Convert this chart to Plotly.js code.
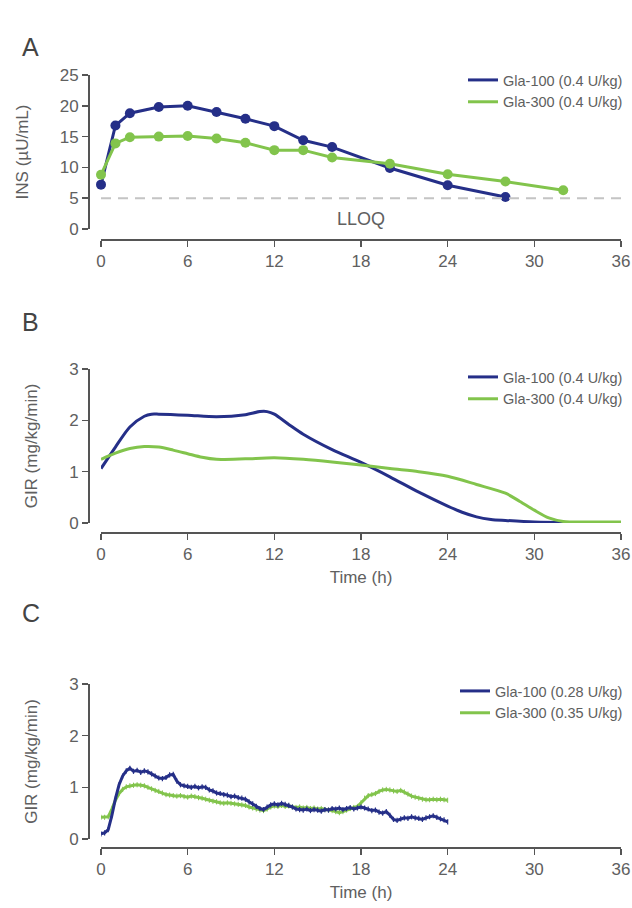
<!DOCTYPE html>
<html>
<head>
<meta charset="utf-8">
<script src="https://cdn.plot.ly/plotly-3.0.1.min.js"></script>
<style>html,body{margin:0;padding:0;background:#fff;}#chart{width:632px;height:908px;}</style>
</head>
<body>
<div id="chart"></div>
<script>
// ---------- Panel A: insulin concentration ----------
const timeA100 = [0, 1, 2, 4, 6, 8, 10, 12, 14, 16, 20, 24, 28];
const insA100  = [7.2, 16.8, 18.8, 19.8, 20.0, 19.0, 17.9, 16.7, 14.4, 13.3, 9.9, 7.1, 5.2];
const timeA300 = [0, 1, 2, 4, 6, 8, 10, 12, 14, 16, 20, 24, 28, 32];
const insA300  = [8.8, 13.9, 14.9, 15.0, 15.1, 14.7, 14.0, 12.8, 12.8, 11.6, 10.6, 8.9, 7.7, 6.3];
const LLOQ = 5;
const lloqSpan = [0, 36];

// ---------- Panel B: GIR, smoothed ----------
const timeB100 = [0, 1, 2, 3, 3.5, 4, 6, 8, 10, 11, 11.5, 12, 13, 14, 16, 18, 20, 22, 24, 25, 26, 27, 28, 30, 33, 36];
const girB100  = [1.06, 1.48, 1.87, 2.08, 2.12, 2.12, 2.10, 2.07, 2.11, 2.17, 2.17, 2.12, 1.92, 1.73, 1.43, 1.18, 0.90, 0.60, 0.33, 0.21, 0.12, 0.07, 0.05, 0.02, 0.01, 0.01];
const timeB300 = [0, 1, 2, 3, 4, 5, 6, 7, 8, 10, 12, 14, 16, 18, 20, 22, 24, 26, 28, 29, 30, 31, 32, 34, 36];
const girB300  = [1.24, 1.36, 1.45, 1.49, 1.48, 1.42, 1.35, 1.28, 1.24, 1.25, 1.27, 1.24, 1.19, 1.13, 1.06, 1.00, 0.91, 0.75, 0.58, 0.42, 0.25, 0.10, 0.03, 0.02, 0.02];

// ---------- Panel C: GIR, raw (every 0.25 h) ----------
const timeC = [0,0.25,0.5,0.75,1,1.25,1.5,1.75,2,2.25,2.5,2.75,3,3.25,3.5,3.75,4,4.25,4.5,4.75,5,5.25,5.5,5.75,6,6.25,6.5,6.75,7,7.25,7.5,7.75,8,8.25,8.5,8.75,9,9.25,9.5,9.75,10,10.25,10.5,10.75,11,11.25,11.5,11.75,12,12.25,12.5,12.75,13,13.25,13.5,13.75,14,14.25,14.5,14.75,15,15.25,15.5,15.75,16,16.25,16.5,16.75,17,17.25,17.5,17.75,18,18.25,18.5,18.75,19,19.25,19.5,19.75,20,20.25,20.5,20.75,21,21.25,21.5,21.75,22,22.25,22.5,22.75,23,23.25,23.5,23.75,24];
const girC100 = [0.10,0.12,0.18,0.45,0.78,1.05,1.22,1.32,1.37,1.31,1.33,1.29,1.32,1.30,1.26,1.22,1.18,1.17,1.19,1.24,1.25,1.12,1.05,1.03,1.02,1.00,1.02,0.99,1.01,1.00,0.95,0.93,0.89,0.88,0.86,0.85,0.82,0.83,0.80,0.79,0.77,0.72,0.68,0.63,0.59,0.57,0.62,0.66,0.68,0.66,0.69,0.67,0.65,0.62,0.58,0.57,0.56,0.58,0.55,0.57,0.56,0.54,0.57,0.56,0.59,0.58,0.60,0.57,0.59,0.61,0.58,0.60,0.62,0.60,0.58,0.55,0.56,0.52,0.50,0.53,0.46,0.38,0.36,0.39,0.41,0.40,0.43,0.41,0.40,0.38,0.41,0.43,0.45,0.42,0.39,0.37,0.33];
const girC300 = [0.42,0.42,0.43,0.58,0.75,0.88,0.96,1.01,1.03,1.04,1.05,1.04,1.03,1.00,0.97,0.94,0.92,0.89,0.86,0.85,0.84,0.83,0.84,0.82,0.81,0.83,0.82,0.80,0.79,0.77,0.75,0.73,0.72,0.70,0.69,0.70,0.69,0.68,0.67,0.66,0.65,0.62,0.60,0.58,0.56,0.55,0.58,0.62,0.64,0.63,0.65,0.63,0.64,0.62,0.61,0.62,0.60,0.61,0.59,0.60,0.58,0.59,0.57,0.56,0.55,0.53,0.51,0.53,0.56,0.59,0.61,0.63,0.70,0.79,0.84,0.86,0.88,0.92,0.95,0.96,0.95,0.93,0.92,0.94,0.91,0.87,0.83,0.81,0.79,0.77,0.76,0.76,0.77,0.76,0.77,0.76,0.75];
const semC = 0.05;

// ---------- labels ----------
const xTicks = [0, 6, 12, 18, 24, 30, 36];
const yTicksA = [0, 5, 10, 15, 20, 25];
const yTicksGIR = [0, 1, 2, 3];
const namesAB = ['Gla-100 (0.4 U/kg)', 'Gla-300 (0.4 U/kg)'];
const namesC = ['Gla-100 (0.28 U/kg)', 'Gla-300 (0.35 U/kg)'];

const BLUE = '#252f88';
const GREEN = '#82c44c';
const AX = '#555555';
const TXT = '#606060';
const FONT = 'Liberation Sans, Arial, Helvetica, sans-serif';

const W = 632, H = 908;
const px = v => v / W;
const py = v => 1 - v / H;

const traces = [
  {x: timeA100, y: insA100, name: namesAB[0], mode: 'lines+markers', xaxis: 'x', yaxis: 'y', showlegend: false,
   line: {color: BLUE, width: 3}, marker: {color: BLUE, size: 10}, cliponaxis: false},
  {x: timeA300, y: insA300, name: namesAB[1], mode: 'lines+markers', xaxis: 'x', yaxis: 'y', showlegend: false,
   line: {color: GREEN, width: 3}, marker: {color: GREEN, size: 10}, cliponaxis: false},
  // legend entries for panel A (line-only symbols, as in the original)
  {x: [null], y: [null], name: namesAB[0], mode: 'lines', xaxis: 'x', yaxis: 'y', legend: 'legend',
   line: {color: BLUE, width: 3}},
  {x: [null], y: [null], name: namesAB[1], mode: 'lines', xaxis: 'x', yaxis: 'y', legend: 'legend',
   line: {color: GREEN, width: 3}},
  {x: lloqSpan, y: [LLOQ, LLOQ], mode: 'lines', xaxis: 'x', yaxis: 'y', showlegend: false, hoverinfo: 'skip',
   line: {color: '#c4c4c4', width: 2, dash: '10px,7px'}, cliponaxis: false},
  {x: timeB100, y: girB100, name: namesAB[0], mode: 'lines', xaxis: 'x2', yaxis: 'y2', legend: 'legend2',
   line: {color: BLUE, width: 3, shape: 'spline', smoothing: 0.8}, cliponaxis: false},
  {x: timeB300, y: girB300, name: namesAB[1], mode: 'lines', xaxis: 'x2', yaxis: 'y2', legend: 'legend2',
   line: {color: GREEN, width: 3, shape: 'spline', smoothing: 0.8}, cliponaxis: false},
  {x: timeC, y: girC300, name: namesC[1], mode: 'lines', xaxis: 'x3', yaxis: 'y3', legend: 'legend3',
   line: {color: GREEN, width: 3},
   error_y: {type: 'constant', value: semC, width: 0, thickness: 1, color: GREEN}, cliponaxis: false},
  {x: timeC, y: girC100, name: namesC[0], mode: 'lines', xaxis: 'x3', yaxis: 'y3', legend: 'legend3',
   line: {color: BLUE, width: 3},
   error_y: {type: 'constant', value: semC, width: 0, thickness: 1.2, color: BLUE}, cliponaxis: false}
];

const xDom = [px(101), px(621)];
function xax(pos, title) {
  return {
    domain: xDom, range: [0, 36], anchor: 'free', position: pos,
    tickvals: xTicks, ticks: 'outside', ticklen: 6, tickwidth: 1.5, tickcolor: AX,
    showline: true, linecolor: AX, linewidth: 1.5, showgrid: false, zeroline: false,
    tickfont: {size: 17, color: TXT},
    title: title ? {text: title, font: {size: 17, color: TXT}, standoff: 8} : undefined
  };
}
function yax(dom, range, ticks, title) {
  return {
    domain: dom, range: range, anchor: 'free', position: px(88),
    tickvals: ticks, ticks: 'outside', ticklen: 6, tickwidth: 1.5, tickcolor: AX,
    showline: true, linecolor: AX, linewidth: 1.5, showgrid: false, zeroline: false,
    tickfont: {size: 17, color: TXT},
    title: {text: title, font: {size: 17, color: TXT}, standoff: 25}
  };
}

function leg(top) {
  return {x: px(628), xanchor: 'right', y: py(top), yanchor: 'top', bgcolor: 'rgba(0,0,0,0)',
          font: {size: 14.5, color: TXT, family: FONT}, tracegroupgap: 0, itemwidth: 30};
}

const layout = {
  width: W, height: H, margin: {l: 0, r: 0, t: 0, b: 0},
  paper_bgcolor: '#fff', plot_bgcolor: '#fff',
  font: {family: FONT, color: TXT, size: 15},
  showlegend: true,
  xaxis: xax(py(239), null),
  yaxis: yax([py(229), py(75)], [0, 25], yTicksA, 'INS (µU/mL)'),
  xaxis2: xax(py(532), 'Time (h)'),
  yaxis2: yax([py(523), py(369)], [0, 3], yTicksGIR, 'GIR (mg/kg/min)'),
  xaxis3: xax(py(847), 'Time (h)'),
  yaxis3: yax([py(839), py(684)], [0, 3], yTicksGIR, 'GIR (mg/kg/min)'),
  legend: leg(64),
  legend2: leg(361),
  legend3: Object.assign(leg(675), {traceorder: 'reversed'}),
  annotations: [
    {text: 'A', x: px(20), y: py(31), xref: 'paper', yref: 'paper', showarrow: false, font: {size: 25, color: '#444'}},
    {text: 'B', x: px(20), y: py(322), xref: 'paper', yref: 'paper', showarrow: false, font: {size: 25, color: '#444'}},
    {text: 'C', x: px(20), y: py(629), xref: 'paper', yref: 'paper', showarrow: false, font: {size: 25, color: '#444'}},
    {text: 'LLOQ', x: 18, y: 1.7, xref: 'x', yref: 'y', showarrow: false, font: {size: 18, color: TXT}}
  ]
};

Plotly.newPlot('chart', traces, layout, {staticPlot: true, displayModeBar: false});
</script>
</body>
</html>
